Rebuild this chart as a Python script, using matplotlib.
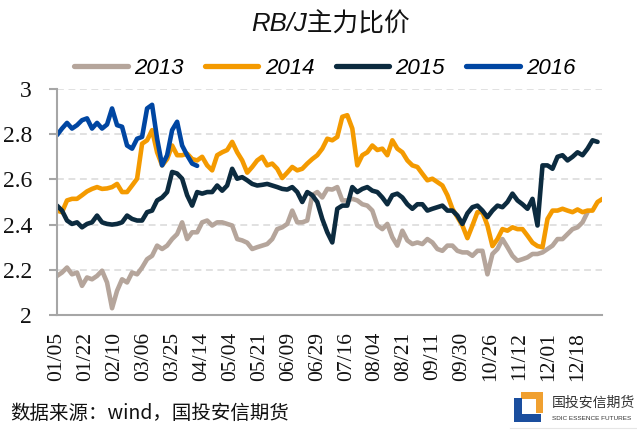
import numpy as np
import matplotlib
matplotlib.use('Agg')
import matplotlib.pyplot as plt
from matplotlib.patches import Rectangle
from matplotlib.lines import Line2D

# ---------------- data ----------------
years = ['2013', '2014', '2015', '2016']

ratio_2013 = [2.173, 2.188, 2.21, 2.18, 2.188, 2.129, 2.166, 2.158, 2.173, 2.196,
              2.144, 2.03, 2.107, 2.158, 2.144, 2.188, 2.18, 2.21, 2.247, 2.262,
              2.307, 2.292, 2.307, 2.336, 2.358, 2.41, 2.336, 2.366,
              2.366, 2.41, 2.418, 2.396, 2.41, 2.41, 2.403, 2.396, 2.336, 2.33,
              2.32, 2.292, 2.3, 2.307, 2.314, 2.336, 2.38, 2.388, 2.403, 2.462,
              2.41, 2.41, 2.418, 2.53, 2.544, 2.52, 2.558,
              2.555, 2.566, 2.507, 2.507, 2.514, 2.507, 2.49, 2.484, 2.462, 2.396,
              2.38, 2.403, 2.344, 2.307, 2.373, 2.33, 2.314, 2.321, 2.314, 2.336,
              2.321, 2.292, 2.284, 2.307, 2.307, 2.284, 2.277,
              2.277, 2.262, 2.284, 2.284, 2.18, 2.27, 2.292, 2.336, 2.3, 2.262,
              2.24, 2.247, 2.255, 2.27, 2.27, 2.277, 2.292, 2.307, 2.336, 2.336,
              2.358, 2.38, 2.388, 2.41, 2.455]

ratio_2014 = [2.462, 2.455, 2.507, 2.514, 2.514, 2.53, 2.547, 2.558, 2.566, 2.558,
              2.56, 2.566, 2.58, 2.544, 2.544, 2.573, 2.603, 2.758, 2.773, 2.818,
              2.72, 2.662, 2.69, 2.75, 2.707, 2.707, 2.714, 2.69,
              2.684, 2.70, 2.662, 2.64, 2.707, 2.72, 2.73, 2.766, 2.72, 2.684,
              2.63, 2.655, 2.684, 2.70, 2.662, 2.67, 2.647, 2.606, 2.63, 2.655,
              2.64, 2.647, 2.67, 2.69, 2.707, 2.736, 2.78,
              2.773, 2.788, 2.877, 2.884, 2.825, 2.662, 2.707, 2.72, 2.75, 2.73,
              2.736, 2.707, 2.773, 2.736, 2.72, 2.684, 2.662, 2.655, 2.625, 2.596,
              2.603, 2.588, 2.573, 2.53, 2.47, 2.433, 2.396,
              2.34, 2.396, 2.455, 2.455, 2.396, 2.305, 2.336, 2.38, 2.373, 2.388,
              2.38, 2.38, 2.351, 2.32, 2.305, 2.3, 2.425, 2.462, 2.462, 2.47,
              2.462, 2.455, 2.467, 2.455, 2.462, 2.462, 2.5, 2.514]

ratio_2015 = [2.484, 2.462, 2.418, 2.403, 2.41, 2.388, 2.403, 2.41, 2.44, 2.41,
              2.403, 2.40, 2.403, 2.41, 2.44, 2.425, 2.418, 2.418, 2.455, 2.462,
              2.507, 2.52, 2.544, 2.633, 2.626, 2.603, 2.53, 2.484,
              2.544, 2.537, 2.544, 2.544, 2.573, 2.55, 2.573, 2.647, 2.603, 2.61,
              2.596, 2.58, 2.573, 2.576, 2.58, 2.573, 2.566, 2.558, 2.555, 2.566,
              2.544, 2.50, 2.544, 2.53, 2.5, 2.425, 2.366,
              2.321, 2.47, 2.484, 2.484, 2.566, 2.544, 2.558, 2.566, 2.55, 2.544,
              2.52, 2.49, 2.53, 2.537, 2.52, 2.49, 2.47, 2.49, 2.49, 2.462,
              2.47, 2.477, 2.484, 2.462, 2.462, 2.44, 2.403,
              2.45, 2.477, 2.484, 2.462, 2.433, 2.462, 2.484, 2.477, 2.5, 2.537,
              2.507, 2.49, 2.47, 2.514, 2.396, 2.662, 2.662, 2.647, 2.70, 2.707,
              2.684, 2.70, 2.72, 2.707, 2.736, 2.773, 2.766]

ratio_2016 = [2.796, 2.825, 2.85, 2.825, 2.84, 2.862, 2.87, 2.825, 2.85, 2.825,
              2.843, 2.914, 2.84, 2.833, 2.75, 2.736, 2.78, 2.788, 2.914, 2.93,
              2.78, 2.662, 2.707, 2.818, 2.855, 2.75, 2.707, 2.67, 2.66]

date_labels = ['01/05', '01/22', '02/10', '03/06', '03/25', '04/14', '05/04',
               '05/21', '06/09', '06/29', '07/16', '08/04', '08/21', '09/11',
               '09/30', '10/26', '11/12', '12/01', '12/18']

y_ticks = [2.0, 2.2, 2.4, 2.6, 2.8, 3.0]
y_tick_labels = ['2', '2.2', '2.4', '2.6', '2.8', '3']

series = [ratio_2013, ratio_2014, ratio_2015, ratio_2016]
colors = ['#B5A59B', '#F49A00', '#0C2B3F', '#0046A2']

# ---------------- figure ----------------
W, H = 637, 430
fig = plt.figure(figsize=(W / 100, H / 100), dpi=100)
ax = fig.add_axes([57 / W, 1 - 315 / H, 545 / W, 226 / H])

step = 2.25          # trading days between samples
label_every = 13     # trading days between date labels
for vals, c, lab in zip(series, colors, years):
    x = np.arange(len(vals)) * step
    ax.plot(x, vals, color=c, lw=3.3, label=lab, solid_joinstyle='round',
            solid_capstyle='round')

ax.set_xlim(0, 245)
ax.set_ylim(2, 3)
ax.set_yticks(y_ticks)
ax.set_yticklabels(y_tick_labels)
ax.set_xticks(np.arange(len(date_labels)) * label_every)
ax.set_xticklabels(date_labels)

ax.yaxis.grid(True, color='#D9D9D9', lw=1.1, linestyle=(0, (4.5, 3)))
ax.set_axisbelow(True)
for s in ['top', 'right']:
    ax.spines[s].set_visible(False)
for s in ['left', 'bottom']:
    ax.spines[s].set_color('#A6A6A6')
    ax.spines[s].set_linewidth(1.5)

ax.tick_params(axis='y', length=6, width=1.5, color='#A6A6A6', pad=12,
               labelsize=17, labelcolor='#111111')
ax.tick_params(axis='x', length=0, pad=12, labelsize=15.5,
               labelrotation=90, labelcolor='#111111')
for lbl in ax.get_xticklabels() + ax.get_yticklabels():
    lbl.set_fontfamily('Liberation Serif')

# title
fig.text(331 / W, 1 - 32 / H, 'RB/J主力比价', ha='center', va='baseline',
         fontsize=18.5, style='italic', color='#111111',
         family=['Liberation Sans', 'Noto Sans CJK SC'])

# legend
leg = fig.legend(loc='center', bbox_to_anchor=(325 / W, 1 - 68 / H), ncol=4,
                 frameon=False, handlelength=2.4, handletextpad=0.3,
                 columnspacing=0.95,
                 prop={'family': 'Liberation Sans', 'style': 'italic', 'size': 16})
for ln in leg.get_lines():
    ln.set_linewidth(3.8)
    ln.set_solid_capstyle('round')

# source
fig.text(10 / W, 1 - 413 / H, '数据来源：wind，国投安信期货', ha='left', va='center',
         fontsize=14, color='#111111',
         family=['Noto Sans CJK SC', 'DejaVu Sans'])

# logo
def px_rect(x0, y0, x1, y1, color):
    fig.patches.append(Rectangle((x0 / W, 1 - y1 / H), (x1 - x0) / W, (y1 - y0) / H,
                                 transform=fig.transFigure, color=color, lw=0))

px_rect(521, 392, 543, 399, '#F0A030')
px_rect(536, 392, 543, 413, '#F0A030')
px_rect(514, 398, 522, 422, '#1A4E9E')
px_rect(514, 414, 541, 422, '#1A4E9E')
fig.text(552 / W, 1 - 403 / H, '国投安信期货', ha='left', va='center', fontsize=10,
         color='#333333', family=['Noto Sans CJK SC', 'DejaVu Sans'])
fig.text(552 / W, 1 - 418.5 / H, 'SDIC ESSENCE FUTURES', ha='left', va='center',
         fontsize=4.6, color='#333333', family='Liberation Sans')
fig.add_artist(Line2D([510 / W, 1.0], [1 - 428 / H, 1 - 428 / H],
                      transform=fig.transFigure, color='#E6E6E6', lw=0.8))

fig.savefig('out.png', dpi=100)
